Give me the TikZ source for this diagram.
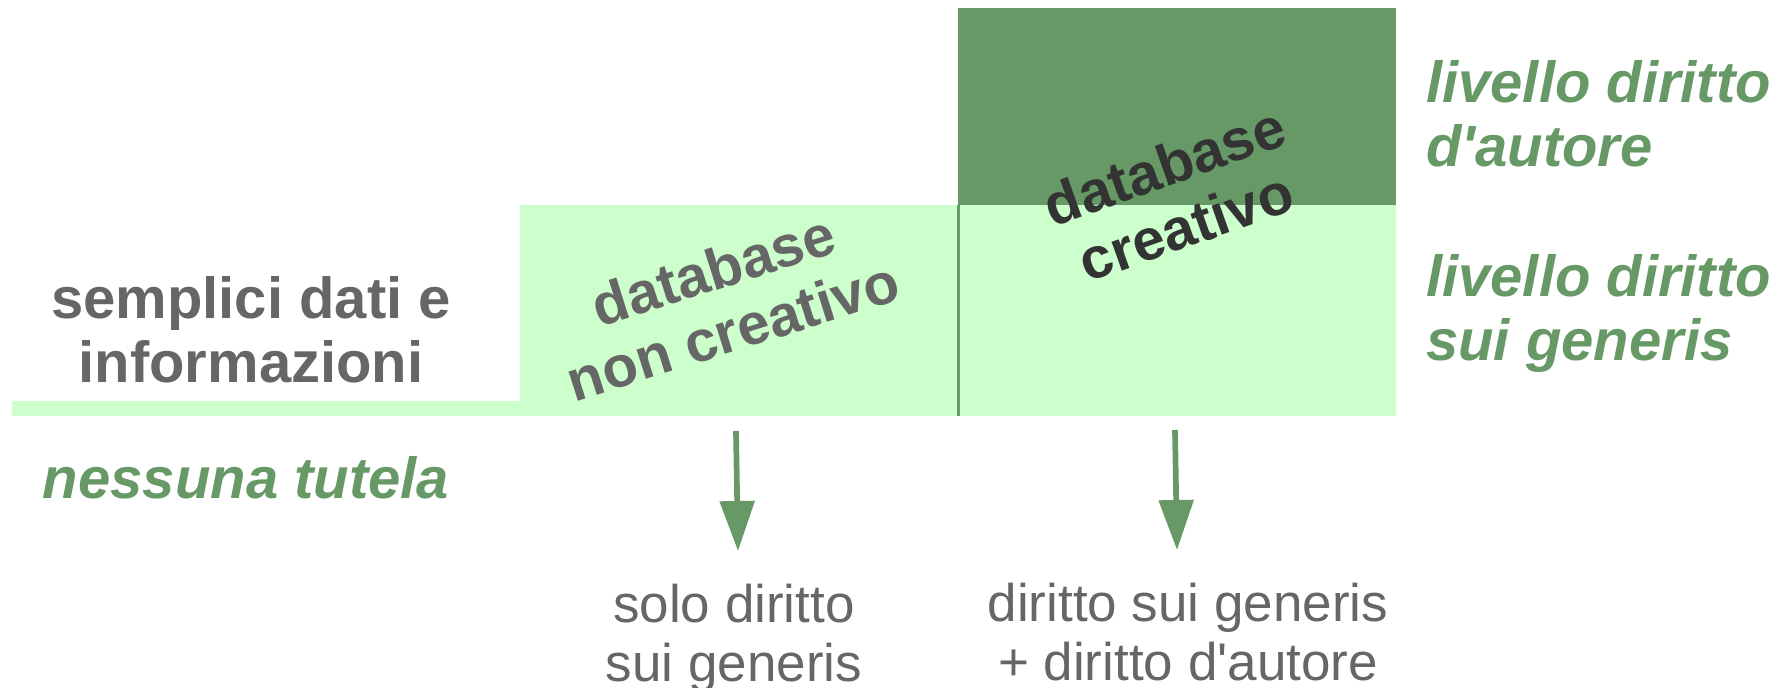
\documentclass[tikz,border=0pt]{standalone}
\usepackage{fontspec}
\setmainfont{Liberation Sans}[Ligatures=TeXOff]
\usetikzlibrary{arrows.meta}
\definecolor{lightg}{HTML}{CCFFCC}
\definecolor{darkg}{HTML}{669966}
\definecolor{txtgray}{HTML}{666666}
\definecolor{txtdark}{HTML}{333333}
\begin{document}
\begin{tikzpicture}[x=1pt,y=-1pt,
  boldtxt/.style={font=\fontsize{58}{64}\selectfont\bfseries, inner sep=0pt, align=center},
  greenlbl/.style={font=\fontsize{58}{64}\selectfont\bfseries\itshape, text=darkg, inner sep=0pt, align=left},
  plaintxt/.style={font=\fontsize{53}{59}\selectfont, text=txtgray, inner sep=0pt, align=center},
  arr/.style={draw=darkg, line width=5.7pt, -{Triangle[length=50pt,width=34pt]}}]
\useasboundingbox (0,0) rectangle (1789,688);
% areas
\fill[lightg] (12,401) rectangle (520,416);
\fill[lightg] (520,205) rectangle (958,416);
\fill[lightg] (958,205) rectangle (1396,416);
\fill[darkg] (958,8) rectangle (1396,205);
\draw[darkg, line width=3pt] (958,205) -- (958,416);
% texts
\node[boldtxt, text=txtgray] (dati) at (251,330) {semplici dati e\\informazioni};
\node[greenlbl, anchor=base] (nessuna) at (246,498) {nessuna tutela};
\node[boldtxt, text=txtgray, rotate=17.5] (noncre) at (723,300) {database\\non creativo};
\node[boldtxt, text=txtdark, rotate=19.5] (cre) at (1175,196) {database\\creativo};
\node[greenlbl, anchor=west] (lvlda) at (1426,113.5) {livello diritto\\d'autore};
\node[greenlbl, anchor=west] (lvlsg) at (1426,314) {livello diritto\\sui generis};
\node[plaintxt] (solo) at (734,638) {solo diritto\\sui generis};
\node[plaintxt] (entr) at (1188,632) {diritto sui generis\\+ diritto d'autore};
% arrows
\coordinate (a1s) at (736,431);
\coordinate (a1e) at (738,551);
\coordinate (a2s) at (1175,430);
\coordinate (a2e) at (1177,550);
\draw[arr] (a1s) -- (a1e);
\draw[arr] (a2s) -- (a2e);
\end{tikzpicture}
\end{document}
